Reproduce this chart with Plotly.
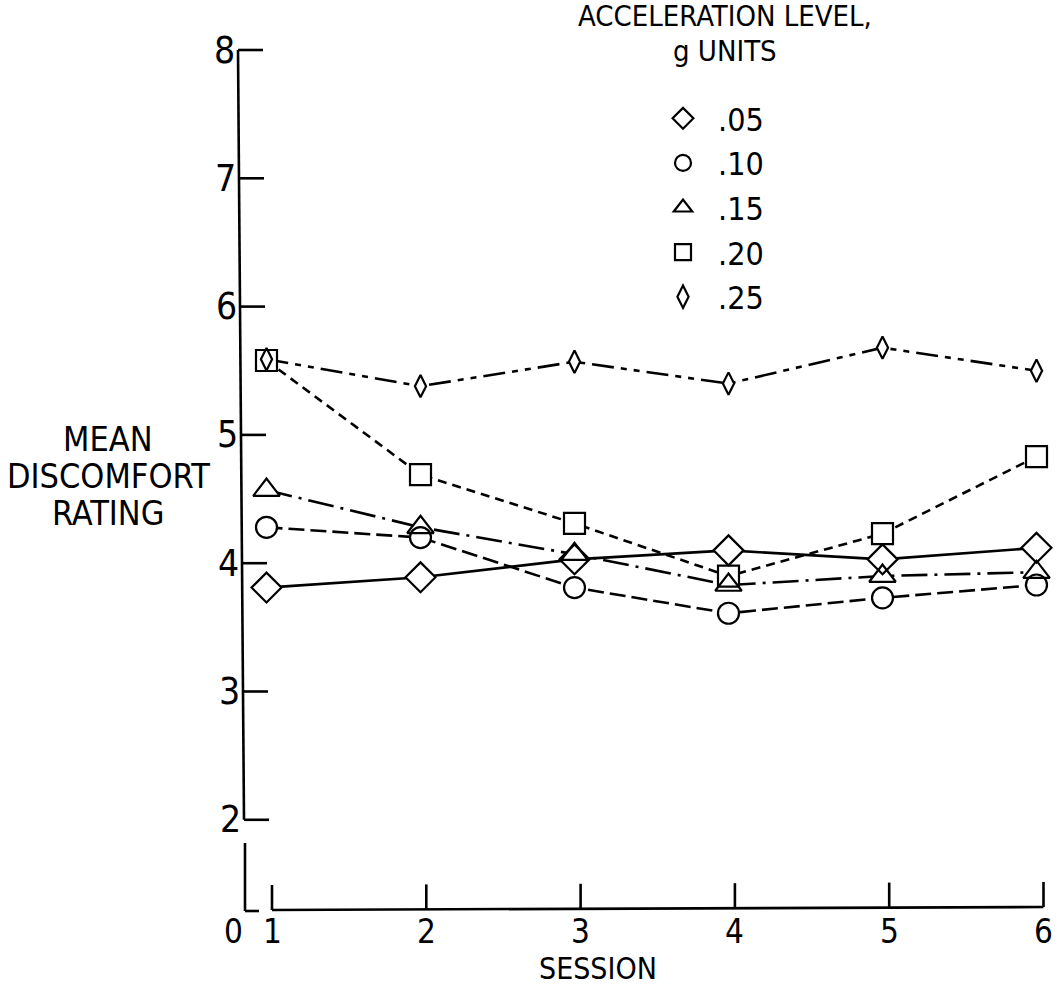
import plotly.graph_objects as go

# Mean discomfort rating per session for each acceleration level (g units)
sessions = [1, 2, 3, 4, 5, 6]
g05 = [3.81, 3.89, 4.03, 4.10, 4.03, 4.12]
g10 = [4.28, 4.20, 3.81, 3.61, 3.73, 3.83]
g15 = [4.57, 4.28, 4.07, 3.83, 3.90, 3.93]
g20 = [5.58, 4.69, 4.31, 3.90, 4.23, 4.83]
g25 = [5.59, 5.38, 5.57, 5.40, 5.68, 5.50]

level_labels = [".05", ".10", ".15", ".20", ".25"]
y_ticks = [2, 3, 4, 5, 6, 7, 8]
x_ticks = [1, 2, 3, 4, 5, 6]

series = [
    (level_labels[0], g05, "diamond", 23, "solid"),
    (level_labels[1], g10, "circle", 21, "16px,6px"),
    (level_labels[2], g15, "triangle-up", 23, "26px,7px,3px,7px"),
    (level_labels[3], g20, "square", 21, "9px,6px"),
    (level_labels[4], g25, "diamond-tall", 16, "22px,7px,6px,7px,6px,7px"),
]

W, H = 1062, 989
FONT = "DejaVu Sans Condensed, DejaVu Sans, sans-serif"
INK = "black"

# frame geometry (pixels)
X_PX_1, X_PX_PER = 266.5, 154.0      # data x-axis
XT_PX_1, XT_PX_PER = 272.0, 154.3    # printed session scale
Y_PX_8, Y_PX_PER = 50.0, 128.3

x_lo = 1 - X_PX_1 / X_PX_PER
xt_lo = 1 - XT_PX_1 / XT_PX_PER
y_top = 8 + Y_PX_8 / Y_PX_PER


def px(xp):
    return xp / W


def py(yp):
    return 1 - yp / H


def ypix(v):
    return Y_PX_8 + (8 - v) * Y_PX_PER


def axis_x(v):
    # the vertical axis leans slightly to the right going down
    return 238 + (ypix(v) - Y_PX_8) * 6.0 / (6 * Y_PX_PER)


fig = go.Figure()

# connecting lines
for name, vals, sym, size, dash in series:
    fig.add_trace(go.Scatter(
        x=sessions, y=vals, mode="lines", showlegend=False, hoverinfo="skip",
        line=dict(color=INK, width=2.6, dash=dash),
    ))

# white marker bodies hide the lines underneath
for name, vals, sym, size, dash in series:
    fig.add_trace(go.Scatter(
        x=sessions, y=vals, mode="markers", showlegend=False, hoverinfo="skip",
        marker=dict(symbol=sym, size=size, color="white", line=dict(width=0)),
    ))

# marker outlines (also used by the legend)
for name, vals, sym, size, dash in series:
    fig.add_trace(go.Scatter(
        x=sessions, y=vals, mode="markers", name=name,
        marker=dict(symbol=sym + "-open", size=size, color=INK,
                    line=dict(width=2.2, color=INK)),
    ))

shapes = []
line_style = dict(color=INK, width=2.6)

# vertical axis, upper part (2..8) with ticks
shapes.append(dict(type="line", xref="paper", yref="y",
                   x0=px(axis_x(2)), x1=px(axis_x(8)), y0=2, y1=8, line=line_style))
for v in y_ticks:
    shapes.append(dict(type="line", xref="paper", yref="y",
                       x0=px(axis_x(v)), x1=px(axis_x(v) + 25), y0=v, y1=v, line=line_style))
# vertical axis, lower stub below the break
shapes.append(dict(type="line", xref="paper", yref="paper",
                   x0=px(245), x1=px(245), y0=py(843), y1=py(911), line=line_style))
shapes.append(dict(type="line", xref="paper", yref="paper",
                   x0=px(245), x1=px(259), y0=py(911), y1=py(911), line=line_style))

# horizontal axis with upward ticks
shapes.append(dict(type="line", xref="x2", yref="paper",
                   x0=x_ticks[0], x1=x_ticks[-1], y0=py(910), y1=py(907), line=line_style))
for i, k in enumerate(x_ticks):
    yb = 910 - 3 * i / (len(x_ticks) - 1)
    shapes.append(dict(type="line", xref="x2", yref="paper",
                       x0=k, x1=k, y0=py(yb), y1=py(yb - 25), line=line_style))

annotations = []
for v in y_ticks:
    annotations.append(dict(text=str(v), xref="paper", yref="y", x=px(axis_x(v) - 1), y=v,
                            xanchor="right", yanchor="middle", showarrow=False,
                            font=dict(family=FONT, size=37, color=INK)))
for k in x_ticks:
    annotations.append(dict(text=str(k), xref="x2", yref="paper", x=k, y=py(931),
                            xanchor="center", yanchor="middle", showarrow=False,
                            font=dict(family=FONT, size=33, color=INK)))
annotations.append(dict(text="0", xref="paper", yref="paper", x=px(233), y=py(931),
                        xanchor="center", yanchor="middle", showarrow=False,
                        font=dict(family=FONT, size=33, color=INK)))
annotations.append(dict(text="SESSION", xref="paper", yref="paper", x=px(598), y=py(968),
                        xanchor="center", yanchor="middle", showarrow=False,
                        font=dict(family=FONT, size=30, color=INK)))

for txt, yc in [("MEAN", 439), ("DISCOMFORT", 476), ("RATING", 513)]:
    annotations.append(dict(text=txt, xref="paper", yref="paper", x=px(108), y=py(yc),
                            xanchor="center", yanchor="middle", showarrow=False,
                            font=dict(family=FONT, size=34, color=INK)))

for txt, yc in [("ACCELERATION LEVEL,", 16), ("g UNITS", 51)]:
    annotations.append(dict(text=txt, xref="paper", yref="paper", x=px(725), y=py(yc),
                            xanchor="center", yanchor="middle", showarrow=False,
                            font=dict(family=FONT, size=29, color=INK)))

fig.update_layout(
    width=W, height=H,
    margin=dict(l=0, r=0, t=0, b=0),
    paper_bgcolor="white", plot_bgcolor="white",
    xaxis=dict(range=[x_lo, x_lo + W / X_PX_PER], visible=False, fixedrange=True),
    xaxis2=dict(range=[xt_lo, xt_lo + W / XT_PX_PER], visible=False, overlaying="x",
                fixedrange=True),
    yaxis=dict(range=[y_top - H / Y_PX_PER, y_top], visible=False, fixedrange=True),
    shapes=shapes,
    annotations=annotations,
    showlegend=True,
    legend=dict(x=px(648), y=py(91), xanchor="left", yanchor="top",
                bgcolor="rgba(0,0,0,0)", borderwidth=0, itemwidth=60,
                tracegroupgap=0, itemclick=False, itemdoubleclick=False,
                font=dict(family=FONT, size=32, color=INK)),
)

fig.write_html("out.html")
